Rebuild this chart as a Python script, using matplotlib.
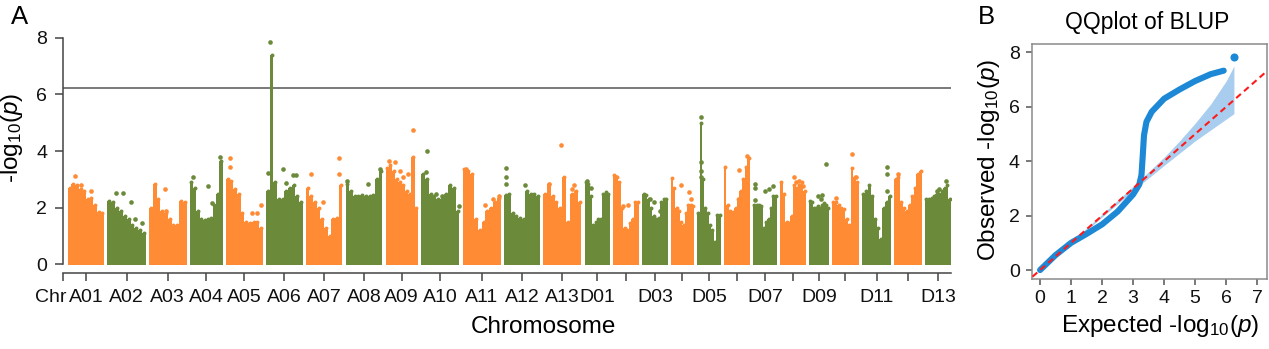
import numpy as np
import matplotlib
matplotlib.use("Agg")
import matplotlib.pyplot as plt

plt.rcParams['font.family'] = ['Liberation Sans', 'DejaVu Sans']
plt.rcParams['mathtext.fontset'] = 'custom'
plt.rcParams['mathtext.rm'] = 'Liberation Sans'
plt.rcParams['mathtext.it'] = 'Liberation Sans:italic'

# chromosomes and their (approximate) lengths in Mb
chroms = ['A01', 'A02', 'A03', 'A04', 'A05', 'A06', 'A07', 'A08', 'A09', 'A10',
          'A11', 'A12', 'A13', 'D01', 'D02', 'D03', 'D04', 'D05', 'D06', 'D07',
          'D08', 'D09', 'D10', 'D11', 'D12', 'D13']
chrom_len = [117, 123, 120, 105, 119, 117, 117, 118, 103, 123, 122, 115, 123,
             80, 85, 80, 75, 75, 83, 77, 82, 64, 85, 94, 88, 83]
shown_labels = ['A01', 'A02', 'A03', 'A04', 'A05', 'A06', 'A07', 'A08', 'A09',
                'A10', 'A11', 'A12', 'A13', 'D01', 'D03', 'D05', 'D07', 'D09',
                'D11', 'D13']

# upper envelope of -log10(p) along each chromosome (10 windows each)
top_A01 = [2.7, 2.85, 2.8, 2.65, 2.6, 2.3, 2.35, 2.1, 1.85, 1.8]
top_A02 = [2.25, 2.2, 2.0, 1.9, 1.7, 1.6, 1.4, 1.3, 1.2, 1.1]
top_A03 = [2.0, 2.85, 2.3, 1.9, 1.8, 1.6, 1.4, 1.4, 2.25, 2.2]
top_A04 = [2.9, 2.7, 1.9, 1.6, 1.55, 1.6, 1.65, 2.1, 2.5, 3.65]
top_A05 = [3.0, 2.95, 2.65, 2.5, 1.8, 1.5, 1.45, 1.5, 1.5, 1.3]
top_A06 = [2.6, 7.4, 2.9, 2.3, 2.3, 2.6, 2.7, 2.8, 2.4, 2.2]
top_A07 = [2.7, 2.4, 2.2, 2.0, 1.6, 1.3, 1.0, 1.6, 1.65, 2.8]
top_A08 = [2.85, 2.6, 2.4, 2.4, 2.45, 2.4, 2.4, 2.45, 3.0, 3.3]
top_A09 = [3.4, 3.5, 3.3, 3.0, 2.9, 2.8, 2.6, 2.5, 3.8, 2.0]
top_A10 = [3.2, 3.0, 2.5, 2.4, 2.3, 2.3, 2.5, 2.8, 2.7, 1.9]
top_A11 = [3.35, 3.3, 3.2, 1.6, 1.2, 1.5, 1.9, 2.0, 2.2, 2.35]
top_A12 = [2.45, 2.5, 1.8, 1.7, 1.65, 1.6, 2.6, 2.5, 2.5, 2.4]
top_A13 = [2.5, 2.85, 2.4, 2.2, 2.0, 3.1, 1.5, 2.5, 2.6, 2.2]
top_D01 = [2.9, 2.85, 2.4, 1.4, 1.5, 1.6, 1.6, 2.5, 2.55, 2.5]
top_D02 = [3.15, 3.1, 2.9, 2.0, 1.3, 1.2, 1.45, 1.6, 2.2, 2.2]
top_D03 = [2.5, 2.45, 2.3, 2.0, 1.7, 1.6, 1.65, 2.2, 2.3, 2.3]
top_D04 = [3.05, 2.7, 2.0, 1.9, 1.5, 1.4, 1.8, 2.1, 2.1, 2.05]
top_D05 = [1.8, 5.0, 3.0, 2.0, 1.8, 1.4, 1.2, 0.8, 1.75, 1.75]
top_D06 = [3.45, 2.1, 1.9, 1.85, 2.0, 2.3, 2.6, 3.0, 3.45, 3.75]
top_D07 = [2.1, 2.1, 2.1, 2.05, 1.3, 1.5, 1.6, 2.0, 2.4, 2.4]
top_D08 = [2.9, 2.5, 1.5, 1.45, 1.7, 2.8, 2.7, 2.8, 2.9, 2.6]
top_D09 = [2.25, 2.2, 2.0, 2.0, 2.05, 2.0, 2.1, 2.15, 2.1, 2.0]
top_D10 = [2.2, 2.2, 2.1, 2.0, 1.95, 1.6, 1.4, 3.4, 3.1, 2.9]
top_D11 = [2.5, 2.6, 2.8, 2.4, 1.6, 1.3, 0.9, 2.0, 2.2, 2.4]
top_D12 = [3.0, 3.1, 2.2, 2.0, 1.9, 2.1, 2.4, 2.7, 3.2, 3.3]
top_D13 = [2.3, 2.3, 2.35, 2.4, 2.5, 2.5, 2.6, 2.7, 2.8, 2.3]

# isolated SNPs above the envelope: chromosome, relative position, value
dot_chrom = ['A01', 'A01', 'A01', 'A02', 'A02', 'A02', 'A02', 'A02', 'A03', 'A03',
             'A04', 'A04', 'A04', 'A04', 'A05', 'A05', 'A05', 'A05', 'A05',
             'A06', 'A06', 'A06', 'A06', 'A06', 'A06', 'A07', 'A07', 'A07', 'A07',
             'A08', 'A08', 'A08', 'A09', 'A09', 'A09', 'A09', 'A09', 'A09',
             'A10', 'A10', 'A10', 'A10', 'A10', 'A11', 'A11', 'A11', 'A11',
             'A12', 'A12', 'A12', 'A12', 'A13', 'A13', 'A13', 'A13',
             'D01', 'D01', 'D02', 'D02', 'D02', 'D03', 'D03', 'D03',
             'D04', 'D04', 'D04', 'D05', 'D05', 'D05', 'D05', 'D06', 'D06', 'D06',
             'D07', 'D07', 'D07', 'D07', 'D07', 'D07', 'D08', 'D08', 'D08', 'D08', 'D08',
             'D09', 'D09', 'D09', 'D09', 'D10', 'D10', 'D10', 'D11', 'D11', 'D11',
             'D12', 'D13', 'D13', 'D13']
dot_pos = [0.2, 0.35, 0.65, 0.22, 0.4, 0.6, 0.71, 0.9, 0.43, 0.45,
           0.1, 0.56, 0.67, 0.92, 0.12, 0.12, 0.7, 0.85, 0.94,
           0.05, 0.12, 0.47, 0.55, 0.73, 0.82, 0.14, 0.46, 0.92, 0.92,
           0.05, 0.6, 0.92, 0.1, 0.3, 0.45, 0.55, 0.7, 0.85,
           0.17, 0.12, 0.4, 0.55, 0.98, 0.08, 0.6, 0.8, 0.96,
           0.05, 0.05, 0.05, 0.6, 0.48, 0.15, 0.8, 0.75,
           0.1, 0.25, 0.12, 0.38, 0.56, 0.3, 0.45, 0.7,
           0.45, 0.8, 0.86, 0.18, 0.18, 0.18, 0.18, 0.57, 0.9, 0.6,
           0.1, 0.1, 0.1, 0.5, 0.68, 0.85, 0.55, 0.6, 0.75, 0.9, 0.45,
           0.43, 0.6, 0.67, 0.85, 0.15, 0.76, 0.9, 0.85, 0.85, 0.85,
           0.15, 0.45, 0.55, 0.8]
dot_val = [3.12, 2.8, 2.6, 2.53, 2.53, 2.2, 1.6, 1.45, 2.65, 1.9,
           3.1, 2.75, 2.15, 3.78, 3.74, 3.45, 1.8, 1.8, 2.1,
           3.23, 7.86, 3.35, 2.86, 3.15, 3.15, 3.2, 2.2, 3.75, 3.2,
           2.95, 2.85, 3.35, 3.65, 3.6, 3.3, 3.1, 3.2, 4.76,
           4.0, 3.25, 2.5, 2.4, 2.05, 3.35, 2.1, 2.3, 2.4,
           3.4, 3.1, 2.85, 2.8, 4.2, 2.85, 2.8, 2.65,
           2.95, 2.7, 3.1, 2.05, 2.1, 2.3, 2.2, 1.9,
           2.8, 2.55, 2.3, 5.2, 3.6, 3.3, 3.1, 3.33, 3.82, 2.3,
           2.85, 2.7, 2.27, 2.6, 2.65, 2.75, 3.1, 2.9, 2.95, 2.75, 1.6,
           2.4, 2.3, 2.45, 3.55, 2.35, 3.9, 3.1, 3.45, 3.2, 2.6,
           3.2, 2.6, 2.65, 2.95]

threshold = 6.23

# QQ plot: observed vs expected -log10(p)
qq_exp = [0, 0.5, 1.0, 1.5, 2.0, 2.5, 3.0, 3.2, 3.27, 3.31, 3.35, 3.43, 3.6,
          4.0, 4.5, 5.0, 5.5, 5.92]
qq_obs = [0.0, 0.55, 1.0, 1.33, 1.68, 2.15, 2.78, 3.15, 3.5, 4.2, 4.95, 5.45,
          5.82, 6.3, 6.64, 6.95, 7.2, 7.33]
qq_top = (6.25, 7.82)
band_x = [0, 1, 2, 3, 4, 4.5, 5, 5.5, 6, 6.25]
band_hi = [0.05, 1.03, 2.05, 3.08, 4.15, 4.75, 5.4, 6.1, 6.95, 7.5]
band_lo = [0, 0.97, 1.95, 2.92, 3.85, 4.3, 4.75, 5.15, 5.55, 5.75]

orange = '#FF8B35'
green = '#6B8A3A'
blue = '#1C88D6'
W, H = 1269, 349

fig = plt.figure(figsize=(W / 100, H / 100), dpi=100)

# ---------------- panel A: Manhattan plot ----------------
gap = 10
starts = []
pos = 15
for L in chrom_len:
    starts.append(pos)
    pos += L + gap
x_end = pos - gap

axA = fig.add_axes([63 / W, 1 - 270 / H, (951 - 63) / W, (270 - 34.9) / H])
axA.set_xlim(0, x_end)
axA.set_ylim(-0.2, 8.1)

tops = [top_A01, top_A02, top_A03, top_A04, top_A05, top_A06, top_A07, top_A08,
        top_A09, top_A10, top_A11, top_A12, top_A13, top_D01, top_D02, top_D03,
        top_D04, top_D05, top_D06, top_D07, top_D08, top_D09, top_D10, top_D11,
        top_D12, top_D13]

centers = []
for i, (L, top) in enumerate(zip(chrom_len, tops)):
    s = starts[i]
    col = orange if i % 2 == 0 else green
    edges = np.linspace(s, s + L, len(top) + 1)
    axA.fill_between(edges, np.append(top, top[-1]), -0.04, step='post',
                     color=col, lw=0, zorder=2)
    mids = (edges[:-1] + edges[1:]) / 2
    axA.scatter(mids, top, s=8, color=col, lw=0, zorder=2)
    centers.append(s + L / 2)

for c, p, v in zip(dot_chrom, dot_pos, dot_val):
    i = chroms.index(c)
    col = orange if i % 2 == 0 else green
    axA.scatter(starts[i] + p * chrom_len[i], v, s=11, color=col, lw=0, zorder=3)

axA.axhline(threshold, color='#555555', lw=1.1, zorder=1)

axA.spines['top'].set_visible(False)
axA.spines['right'].set_visible(False)
for sp in ['left', 'bottom']:
    axA.spines[sp].set_color('#444444')
    axA.spines[sp].set_linewidth(1.1)
axA.spines['left'].set_bounds(0, 8)
axA.spines['bottom'].set_position(('outward', 2.2))
axA.set_yticks([0, 2, 4, 6, 8])
axA.set_xticks([0] + centers)
axA.set_xticklabels([''] + [c if c in shown_labels else '' for c in chroms])
axA.tick_params(axis='both', labelsize=14, length=5.8, width=1.1,
                color='#444444', labelcolor='#111111')
axA.tick_params(axis='x', pad=6)
axA.tick_params(axis='y', pad=5.5)

fig.text(51 / W, 1 - 298 / H, 'Chr', ha='center', va='center', fontsize=14,
         color='#111111')
fig.text(12 / W, 1 - 138 / H, r'-log$_{10}$($\mathit{p}$)', rotation=90,
         ha='center', va='center', fontsize=17.5)
fig.text(543 / W, 1 - 327 / H, 'Chromosome', ha='center', va='center', fontsize=17.5)
fig.text(20 / W, 1 - 17 / H, 'A', ha='center', va='center', fontsize=18.5)

# ---------------- panel B: QQ plot ----------------
axB = fig.add_axes([1031.7 / W, 1 - 279.3 / H, (1266.5 - 1031.7) / W, (279.3 - 44) / H])
axB.set_xlim(-0.27, 7.3)
axB.set_ylim(-0.34, 8.31)
axB.fill_between(band_x, band_lo, band_hi, color='#A9CDEE', lw=0, zorder=1)
axB.plot(qq_exp, qq_obs, color=blue, lw=4.4, solid_capstyle='round',
         solid_joinstyle='round', zorder=2)
axB.scatter([qq_top[0]], [qq_top[1]], s=34, color=blue, lw=0, zorder=2)
axB.plot([-1, 8], [-1, 8], color='#FF1A1A', lw=1.5, ls=(0, (3, 2)), zorder=3)

for sp in axB.spines.values():
    sp.set_color('#8a8a8a')
    sp.set_linewidth(1.1)
axB.set_xticks(range(8))
axB.set_yticks([0, 2, 4, 6, 8])
axB.tick_params(axis='both', labelsize=14, length=4.5, width=1.1,
                color='#555555', labelcolor='#111111')
axB.tick_params(axis='x', pad=3)
axB.tick_params(axis='y', pad=4)

fig.text(1147 / W, 1 - 23 / H, 'QQplot of BLUP', ha='center', va='center', fontsize=16.5)
fig.text(1160 / W, 1 - 326 / H, r'Expected -log$_{10}$($\mathit{p}$)',
         ha='center', va='center', fontsize=17.5)
fig.text(989 / W, 1 - 160 / H, r'Observed -log$_{10}$($\mathit{p}$)', rotation=90,
         ha='center', va='center', fontsize=17.5)
fig.text(986 / W, 1 - 17 / H, 'B', ha='center', va='center', fontsize=18.5)

fig.savefig('out.png', dpi=100)
